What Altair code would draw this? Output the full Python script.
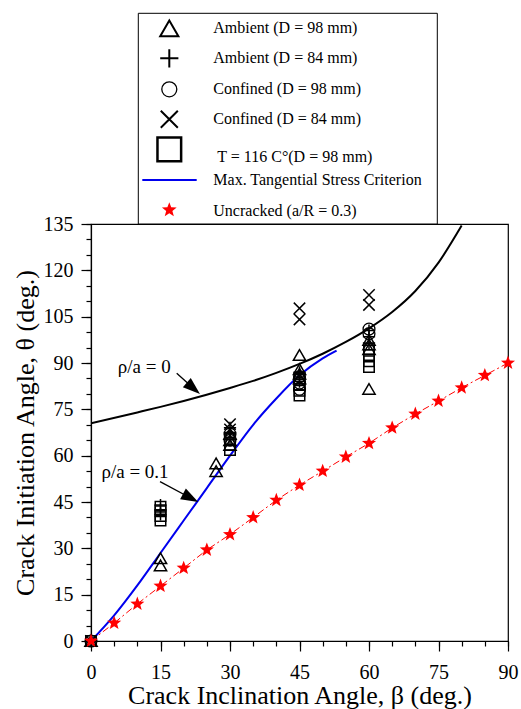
import math
import altair as alt
import pandas as pd

# ---------------- data ----------------
tri_beta = [0, 15, 15, 27, 27, 30, 30, 30, 45, 45, 45, 45, 60, 60, 60, 60]
tri_theta = [0, 26.8, 24.5, 57.5, 55.0, 67, 65, 63.5, 92.6, 88.0, 86.5, 85.0, 97.5, 96.0, 94.5, 81.6]

plus_beta = [0, 15, 15, 15, 30, 30, 30, 45, 45, 45, 60, 60, 60]
plus_theta = [0, 44.0, 42.5, 41.0, 69.0, 67.5, 66, 87.0, 85.5, 84, 100.5, 98.5, 96.5]

circ_beta = [0, 30, 30, 45, 45, 45, 60, 60]
circ_theta = [0, 67, 65, 85.5, 83.5, 81.5, 101.0, 99.5]

x_beta = [0, 30, 30, 45, 45, 60, 60]
x_theta = [0, 70.2, 68.5, 107.7, 104.1, 112.0, 108.8]

sq_beta = [0, 15, 15, 15, 15, 30, 30, 30, 45, 45, 45, 45, 60, 60, 60, 60]
sq_theta = [0, 43.5, 42.0, 40.5, 39.0, 65.5, 63.5, 61.8, 85.0, 83.0, 81.0, 79.5, 94.5, 92.6, 90.6, 88.7]

mts0_beta = [0, 10, 15, 20, 30, 35, 40, 45, 50, 55, 60, 65, 70, 75, 80]
mts0_theta = [70.5, 74.0, 75.8, 77.7, 81.9, 84.2, 86.8, 89.7, 93.0, 96.8, 101.2, 106.5, 113.3, 122.5, 134.5]

mts1_beta = [0, 5, 10, 15, 20, 25, 30, 35, 40, 45, 50, 53]
mts1_theta = [0, 8.3, 18.0, 28.5, 39.0, 49.5, 60.0, 70.0, 78.5, 86.0, 91.5, 94.0]

star_beta = [0, 5, 10, 15, 20, 25, 30, 35, 40, 45, 50, 55, 60, 65, 70, 75, 80, 85, 90]
star_theta = [0, 5.8, 12.0, 17.8, 23.6, 29.5, 34.5, 40.0, 45.6, 50.5, 55.0, 59.6, 64.0, 69.0, 73.5, 77.7, 82.0, 86.0, 90.0]

ann_text = ["ρ/a = 0", "ρ/a = 0.1"]
ann_beta = [11.5, 9.5]
ann_theta = [88.8, 54.7]
arrow_start_beta = [18.5, 14.9]
arrow_start_theta = [86.7, 51.6]
arrow_head_beta = [22.1, 21.5]
arrow_head_theta = [81.8, 46.3]
arrow_angle = [40.6, 28.2]

legend_labels = [
    "Ambient (D = 98 mm)",
    "Ambient (D = 84 mm)",
    "Confined (D = 98 mm)",
    "Confined (D = 84 mm)",
    "T = 116 C°(D = 98 mm)",
    "Max. Tangential Stress Criterion",
    "Uncracked (a/R = 0.3)",
]

# ---------------- styling ----------------
FONT = "Liberation Serif"
PLUS = "M-1,0L1,0M0,-1L0,1"
XSH = "M-1,-1L1,1M-1,1L1,-1"
ARROW = "M1,0L-1,-0.7L-1,0.7Z"
pts = []
for i in range(10):
    a = math.radians(-90 + 36 * i)
    r = 1.0 if i % 2 == 0 else 0.42
    pts.append(f"{r*math.cos(a):.4f},{r*math.sin(a):.4f}")
STAR = "M" + "L".join(pts) + "Z"

xs = alt.Scale(domain=[0, 90], nice=False, zero=False)
ys = alt.Scale(domain=[0, 135], nice=False, zero=False)


def df(b, t):
    return pd.DataFrame({"beta": b, "theta": t})


def enc(axis_x=None, axis_y=None):
    return dict(
        x=alt.X("beta:Q", scale=xs, axis=axis_x),
        y=alt.Y("theta:Q", scale=ys, axis=axis_y),
    )


layers = []

# axes carriers (major and minor ticks)
star_df = df(star_beta, star_theta)
major_x = alt.Axis(values=list(range(0, 91, 15)), tickSize=10, labelPadding=11,
                   title="Crack Inclination Angle, β (deg.)", titlePadding=0,
                   orient="bottom", labelFlush=False, labelOverlap=False, format="d")
major_y = alt.Axis(values=list(range(0, 136, 15)), tickSize=10, labelPadding=8,
                   title="Crack Initiation Angle, θ (deg.)", titlePadding=5,
                   orient="left", labelOverlap=False, format="d")
minor_x = alt.Axis(values=list(range(0, 91, 5)), tickSize=5, labels=False, domain=False,
                   title="", orient="bottom")
minor_y = alt.Axis(values=list(range(0, 136, 5)), tickSize=5, labels=False, domain=False,
                   title="", orient="left")
layers.append(alt.Chart(star_df).mark_point(opacity=0).encode(**enc(major_x, major_y)))
layers.append(alt.Chart(star_df).mark_point(opacity=0).encode(**enc(minor_x, minor_y)))

# curves
layers.append(alt.Chart(df(mts0_beta, mts0_theta)).mark_line(
    color="black", strokeWidth=2, interpolate="monotone", clip=True).encode(**enc()))
layers.append(alt.Chart(df(mts1_beta, mts1_theta)).mark_line(
    color="#0000ee", strokeWidth=2, interpolate="monotone").encode(**enc()))
layers.append(alt.Chart(star_df).mark_line(
    color="red", strokeWidth=1, strokeDash=[7, 3, 2, 3]).encode(**enc()))

# experimental markers
MK = dict(filled=False, color="black", opacity=1)
layers.append(alt.Chart(df(tri_beta, tri_theta)).mark_point(
    shape="triangle-up", size=150, strokeWidth=1.5, **MK).encode(**enc()))
layers.append(alt.Chart(df(plus_beta, plus_theta)).mark_point(
    shape=PLUS, size=150, strokeWidth=1.5, **MK).encode(**enc()))
layers.append(alt.Chart(df(circ_beta, circ_theta)).mark_point(
    shape="circle", size=140, strokeWidth=1.3, **MK).encode(**enc()))
layers.append(alt.Chart(df(x_beta, x_theta)).mark_point(
    shape=XSH, size=130, strokeWidth=1.5, **MK).encode(**enc()))
layers.append(alt.Chart(df(sq_beta, sq_theta)).mark_point(
    shape="square", size=110, strokeWidth=1.5, **MK).encode(**enc()))
layers.append(alt.Chart(star_df).mark_point(
    shape=STAR, filled=True, color="red", opacity=1, size=220, strokeWidth=0).encode(**enc()))

# annotations
ann_df = pd.DataFrame({"beta": ann_beta, "theta": ann_theta, "txt": ann_text})
layers.append(alt.Chart(ann_df).mark_text(
    font=FONT, fontSize=19, color="black", align="center", baseline="middle").encode(
    text="txt:N", **enc()))
arr_df = pd.DataFrame({"beta": arrow_start_beta, "theta": arrow_start_theta,
                       "b2": arrow_head_beta, "t2": arrow_head_theta, "ang": arrow_angle})
layers.append(alt.Chart(arr_df).mark_rule(color="black", strokeWidth=1.3).encode(
    x2="b2:Q", y2="t2:Q", **enc()))
layers.append(alt.Chart(arr_df).mark_point(
    shape=ARROW, filled=True, color="black", opacity=1, size=300, strokeWidth=0).encode(
    x=alt.X("b2:Q", scale=xs, axis=None), y=alt.Y("t2:Q", scale=ys, axis=None),
    angle=alt.Angle("ang:Q", scale=None)))

# ---------------- manual legend (pixel layout above the plot) ----------------
one = pd.DataFrame({"k": [0]})
LX0, LX1, LY0 = 47.3, 346.3, -210.7
SYMX, TXTX = 78.3, 122.3
row_y = [-195.7, -165.7, -134.7, -104.7, -74.7, -44.0, -14.0]
txt_y = [-195.7, -165.7, -134.7, -104.7, -67.3, -44.0, -13.3]

layers.append(alt.Chart(one).mark_rect(fill="white", stroke="black", strokeWidth=1).encode(
    x=alt.value(LX0), x2=alt.value(LX1), y=alt.value(LY0), y2=alt.value(0)))

leg_sym = [
    dict(shape="triangle-up", filled=False, color="black", size=330, strokeWidth=2),
    dict(shape=PLUS, filled=False, color="black", size=330, strokeWidth=2),
    dict(shape="circle", filled=False, color="black", size=225, strokeWidth=1.3),
    dict(shape=XSH, filled=False, color="black", size=290, strokeWidth=2),
    dict(shape="square", filled=False, color="black", size=560, strokeWidth=2.5),
    None,
    dict(shape=STAR, filled=True, color="red", size=240, strokeWidth=0),
]
for i, spec in enumerate(leg_sym):
    if spec is None:
        layers.append(alt.Chart(one).mark_rule(color="#0000ee", strokeWidth=2).encode(
            x=alt.value(51.3), x2=alt.value(105.7), y=alt.value(row_y[i])))
    else:
        layers.append(alt.Chart(one).mark_point(opacity=1, **spec).encode(
            x=alt.value(SYMX), y=alt.value(row_y[i])))
    layers.append(alt.Chart(one).mark_text(
        font=FONT, fontSize=16, color="black", align="left", baseline="middle",
        text=legend_labels[i]).encode(
        x=alt.value(TXTX + (4 if i == 4 else 0)), y=alt.value(txt_y[i])))

chart = alt.layer(*layers).resolve_axis(x="independent", y="independent").properties(
    width=417, height=417,
    background="white",
    autosize=alt.AutoSizeParams(type="none"),
    padding={"left": 91, "top": 224, "right": 13, "bottom": 68},
).configure_view(stroke="black", strokeWidth=1.2).configure_axis(
    grid=False, labelFont=FONT, labelFontSize=20, labelColor="black",
    titleFont=FONT, titleFontSize=26, titleFontWeight="normal", titleColor="black",
    tickColor="black", domainColor="black", tickWidth=1.2, domainWidth=1.2,
)

chart.save("out.html", embed_options={"renderer": "svg", "actions": False})
